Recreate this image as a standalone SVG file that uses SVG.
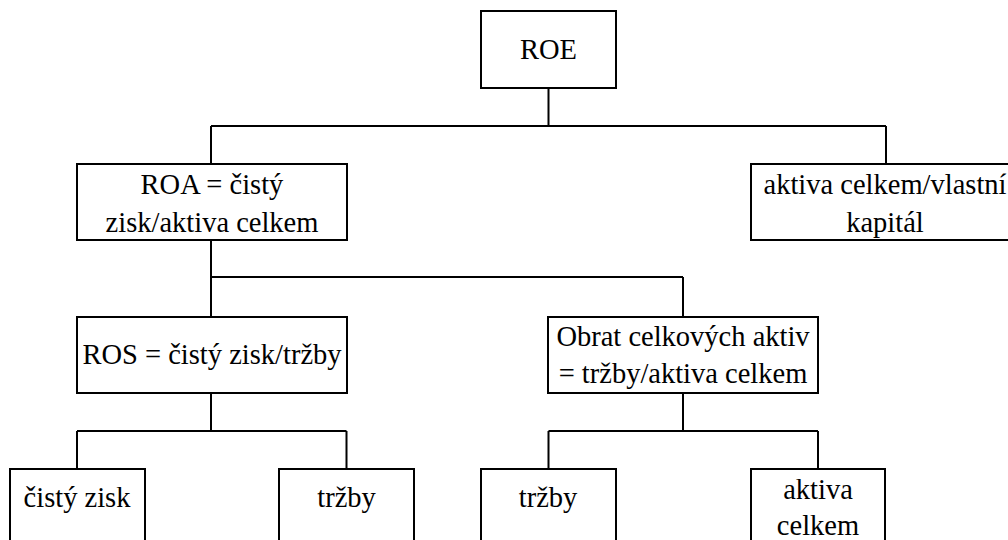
<svg xmlns="http://www.w3.org/2000/svg" width="1008" height="540" viewBox="0 0 1008 540">
<style>
.box{fill:#fff;stroke:#000;stroke-width:2}
.c{fill:none;stroke:#000;stroke-width:2}
.t{font-family:'Times New Roman','Liberation Serif',Tinos,serif;font-size:28.5px;fill:#000;text-anchor:middle}
</style>
<rect width="1008" height="540" fill="#fff"/>
<g id="connectors">
<path class="c" d="M548.5 88V126M211 126H886M211 126V164M886 126V164"/>
<path class="c" d="M211 240V277M211 277H683M211 277V317M683 277V317"/>
<path class="c" d="M211 393V431M77 431H346.5M77 431V469M346.5 431V469"/>
<path class="c" d="M683 393V431M548.5 431H818M548.5 431V469M818 431V469"/>
</g>
<g id="roe">
<rect class="box" x="481" y="11" width="135" height="77"/>
<text class="t" x="548.5" y="59">ROE</text>
</g>
<g id="roa">
<rect class="box" x="77" y="164" width="270" height="76"/>
<text class="t" x="212" y="194">ROA = čistý</text>
<text class="t" x="212" y="231.5">zisk/aktiva celkem</text>
</g>
<g id="equity">
<rect class="box" x="751" y="164" width="270" height="76"/>
<text class="t" x="885" y="193.5">aktiva celkem/vlastní</text>
<text class="t" x="885" y="231.5">kapitál</text>
</g>
<g id="ros">
<rect class="box" x="77" y="317" width="270" height="76"/>
<text class="t" x="212" y="364">ROS = čistý zisk/tržby</text>
</g>
<g id="obrat">
<rect class="box" x="548" y="317" width="270" height="76"/>
<text class="t" x="683" y="346">Obrat celkových aktiv</text>
<text class="t" x="683" y="383">= tržby/aktiva celkem</text>
</g>
<g id="cisty-zisk">
<rect class="box" x="10" y="469" width="135" height="90"/>
<text class="t" x="77" y="506.5">čistý zisk</text>
</g>
<g id="trzby1">
<rect class="box" x="279" y="469" width="135" height="90"/>
<text class="t" x="346.5" y="506.5">tržby</text>
</g>
<g id="trzby2">
<rect class="box" x="481" y="469" width="135" height="90"/>
<text class="t" x="548" y="506.5">tržby</text>
</g>
<g id="aktiva-celkem">
<rect class="box" x="751" y="469" width="134" height="90"/>
<text class="t" x="818" y="499">aktiva</text>
<text class="t" x="818" y="535">celkem</text>
</g>
</svg>
